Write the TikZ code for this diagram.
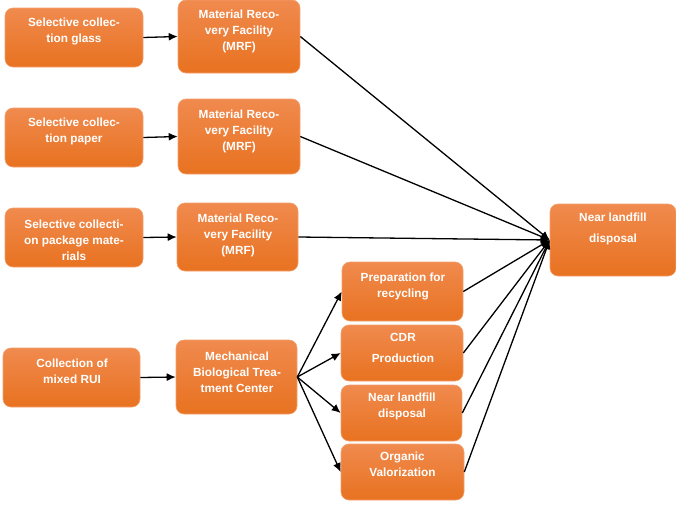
\documentclass[tikz,border=0pt]{standalone}
\usepackage{fontspec}
\setmainfont{Liberation Sans}
\usetikzlibrary{arrows.meta}
\definecolor{otop}{RGB}{240,138,78}
\definecolor{obot}{RGB}{232,114,32}
\definecolor{oedge}{RGB}{244,160,110}
\tikzset{
  box/.style={rounded corners=8pt, top color=otop, bottom color=obot, draw=oedge, line width=0.6pt, inner sep=0pt},
  lbl/.style={text=white, font=\bfseries\fontsize{11.8}{16}\selectfont, align=center, inner sep=0pt},
  lblw/.style={lbl, font=\bfseries\fontsize{11.8}{21}\selectfont},
  arr/.style={-{Latex[length=9pt,width=8pt]}, line width=1.3pt, black},
}
\begin{document}
\begin{tikzpicture}[x=1pt,y=-1pt]
\useasboundingbox (0,0) rectangle (676,514);
% left column boxes
\node[box, minimum width=138pt, minimum height=59pt] (l1) at (74,37.5) {};
\node[box, minimum width=138pt, minimum height=59pt] (l2) at (74,137.5) {};
\node[box, minimum width=138pt, minimum height=59pt] (l3) at (74,237.5) {};
\node[box, minimum width=137pt, minimum height=59pt] (l4) at (71.5,377.5) {};
% MRF and MBT
\node[box, minimum width=122pt, minimum height=73pt] (m1) at (239,36.5) {};
\node[box, minimum width=122pt, minimum height=75pt] (m2) at (239,136.5) {};
\node[box, minimum width=121pt, minimum height=68pt] (m3) at (237.5,237) {};
\node[box, minimum width=121pt, minimum height=74pt] (mbt) at (236.5,377) {};
% small boxes
\node[box, minimum width=121pt, minimum height=59pt] (prep) at (402.5,291.5) {};
\node[box, minimum width=122pt, minimum height=56pt] (cdr) at (402,353) {};
\node[box, minimum width=121pt, minimum height=56pt] (nls) at (401.5,413) {};
\node[box, minimum width=123pt, minimum height=56pt] (org) at (402.5,472) {};
% big box
\node[box, minimum width=126pt, minimum height=72pt] (big) at (613,240) {};
% labels
\node[lbl] (t1) at (74,31.5) {Selective collec-\\tion glass};
\node[lbl] (t2) at (74,131.5) {Selective collec-\\tion paper};
\node[lbl] (t3) at (74,240) {Selective collecti-\\on package mate-\\rials};
\node[lbl] (t4) at (72,371) {Collection of\\mixed RUI};
\node[lbl] (tm1) at (239,31) {Material Reco-\\very Facility\\(MRF)};
\node[lbl] (tm2) at (239,131) {Material Reco-\\very Facility\\(MRF)};
\node[lbl] (tm3) at (238,235) {Material Reco-\\very Facility\\(MRF)};
\node[lbl] (tmbt) at (237,372) {Mechanical\\Biological Trea-\\tment Center};
\node[lbl] (tprep) at (403,286) {Preparation for\\recycling};
\node[lblw] (tcdr) at (403,347.5) {CDR\\Production};
\node[lbl] (tnls) at (402,406) {Near landfill\\disposal};
\node[lbl] (torg) at (402.5,464.5) {Organic\\Valorization};
\node[lblw] (tbig) at (613,228.5) {Near landfill\\disposal};
% arrows left to middle
\draw[arr] (l1.east) -- (m1.west);
\draw[arr] (l2.east) -- (m2.west);
\draw[arr] (l3.east) -- (m3.west);
\draw[arr] (l4.east) -- (mbt.west);
% fan from MBT
\draw[arr] (mbt.east) -- (prep.west);
\draw[arr] (mbt.east) -- (cdr.west);
\draw[arr] (mbt.east) -- (nls.west);
\draw[arr] (mbt.east) -- (org.west);
% converging to big box
\foreach \s in {m1,m2,m3,prep,cdr,nls,org}
  \draw[arr] (\s.east) -- (big.west);
\end{tikzpicture}
\end{document}
